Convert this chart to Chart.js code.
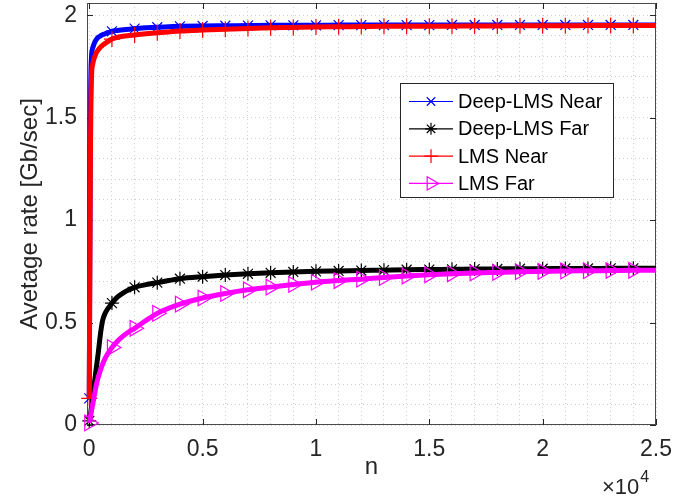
<!DOCTYPE html>
<html><head><meta charset="utf-8">
<script src="https://cdn.jsdelivr.net/npm/chart.js@4.4.0/dist/chart.umd.min.js"></script>
<style>html,body{margin:0;padding:0;background:#fff}#wrap{width:693px;height:497px;position:relative}</style>
</head><body><div id="wrap"><canvas id="c" width="693" height="497"></canvas></div>
<script>
// ---- data ----
const nValues = [0, 50, 100, 150, 200, 250, 300, 400, 500, 600, 700, 800, 900, 1000, 1250, 1500, 1750, 2000, 2500, 3000, 3500, 4000, 5000, 6000, 7000, 8000, 9000, 10000, 11000, 12000, 13000, 14000, 15000, 16000, 17000, 18000, 19000, 20000, 21000, 22000, 23000, 24000, 25000];
const deepLmsNear = [0.13, 1.50, 1.80, 1.84, 1.857, 1.87, 1.88, 1.893, 1.90, 1.906, 1.91, 1.915, 1.918, 1.922, 1.926, 1.929, 1.932, 1.935, 1.939, 1.942, 1.944, 1.946, 1.948, 1.949, 1.950, 1.951, 1.951, 1.951, 1.952, 1.952, 1.952, 1.952, 1.952, 1.953, 1.953, 1.953, 1.953, 1.953, 1.953, 1.953, 1.953, 1.953, 1.953];
const deepLmsFar = [0.02, 0.05, 0.09, 0.135, 0.18, 0.225, 0.27, 0.355, 0.45, 0.515, 0.545, 0.565, 0.58, 0.595, 0.625, 0.645, 0.66, 0.672, 0.685, 0.695, 0.705, 0.714, 0.724, 0.732, 0.738, 0.743, 0.747, 0.750, 0.752, 0.754, 0.756, 0.758, 0.759, 0.760, 0.761, 0.762, 0.763, 0.763, 0.764, 0.764, 0.765, 0.765, 0.765];
const lmsNear = [0.13, 1.30, 1.70, 1.76, 1.785, 1.80, 1.815, 1.832, 1.845, 1.855, 1.863, 1.870, 1.878, 1.884, 1.893, 1.898, 1.901, 1.904, 1.910, 1.915, 1.919, 1.923, 1.928, 1.932, 1.936, 1.939, 1.941, 1.943, 1.944, 1.945, 1.946, 1.946, 1.947, 1.947, 1.948, 1.948, 1.949, 1.949, 1.949, 1.950, 1.950, 1.950, 1.950];
const lmsFar = [0.01, 0.04, 0.07, 0.10, 0.13, 0.16, 0.19, 0.235, 0.27, 0.30, 0.325, 0.345, 0.362, 0.378, 0.41, 0.435, 0.455, 0.472, 0.51, 0.545, 0.57, 0.59, 0.62, 0.642, 0.66, 0.673, 0.686, 0.697, 0.705, 0.712, 0.72, 0.727, 0.733, 0.738, 0.742, 0.745, 0.748, 0.75, 0.752, 0.753, 0.754, 0.755, 0.755];
const seriesLabels = ['Deep-LMS Near', 'Deep-LMS Far', 'LMS Near', 'LMS Far'];
const xMajorTicks = [0, 5000, 10000, 15000, 20000, 25000];
const xTickLabels = ['0', '0.5', '1', '1.5', '2', '2.5'];
const yMajorTicks = [0, 0.5, 1, 1.5, 2];
const yTickLabels = ['0', '0.5', '1', '1.5', '2'];
const xAxisTitle = 'n';
const yAxisTitle = 'Avetage rate [Gb/sec]';
const xExponentBase = '\u00d710';
const xExponent = '4';
const markerEvery = 1000;

// ---- styling ----
const FONT = "'Liberation Sans', Arial, Helvetica, sans-serif";
Chart.defaults.font.family = FONT;
const TEXT = '#262626';
const styles = [
  {color: '#0000ff', marker: 'crossRot', r: 7, rot: 0, order: 3},
  {color: '#000000', marker: 'star', r: 7, rot: 0, order: 2},
  {color: '#ff0000', marker: 'cross', r: 8, rot: 0, order: 1},
  {color: '#ff00ff', marker: 'triangle', r: 9, rot: 90, order: 0}
];
const seriesValues = [deepLmsNear, deepLmsFar, lmsNear, lmsFar];

const datasets = seriesValues.map((vals, k) => ({
  label: seriesLabels[k],
  data: nValues.map((n, i) => ({x: n, y: vals[i]})),
  borderColor: styles[k].color,
  backgroundColor: 'rgba(0,0,0,0)',
  borderWidth: 5,
  cubicInterpolationMode: 'monotone',
  pointStyle: styles[k].marker,
  pointRotation: styles[k].rot,
  pointRadius: c => {
    const n = nValues[c.dataIndex];
    return (n % markerEvery === 0 && n < 25000) ? styles[k].r : 0;
  },
  pointBorderColor: styles[k].color,
  pointBackgroundColor: 'rgba(0,0,0,0)',
  pointBorderWidth: 1.2,
  order: styles[k].order,
  clip: false
}));

function drawMarker(ctx, style, x, y, r, rotDeg) {
  ctx.beginPath();
  if (style === 'cross' || style === 'star') {
    ctx.moveTo(x - r, y); ctx.lineTo(x + r, y);
    ctx.moveTo(x, y - r); ctx.lineTo(x, y + r);
  }
  if (style === 'crossRot' || style === 'star') {
    const d = r * Math.SQRT1_2;
    ctx.moveTo(x - d, y - d); ctx.lineTo(x + d, y + d);
    ctx.moveTo(x - d, y + d); ctx.lineTo(x + d, y - d);
  }
  if (style === 'triangle') {
    let a = rotDeg * Math.PI / 180;
    ctx.moveTo(x + Math.sin(a) * r, y - Math.cos(a) * r);
    a += 2 * Math.PI / 3;
    ctx.lineTo(x + Math.sin(a) * r, y - Math.cos(a) * r);
    a += 2 * Math.PI / 3;
    ctx.lineTo(x + Math.sin(a) * r, y - Math.cos(a) * r);
    ctx.closePath();
  }
  ctx.stroke();
}

const matlabAxes = {
  id: 'matlabAxes',
  beforeDatasetsDraw(chart) {
    const {ctx, chartArea: a, scales: {x, y}} = chart;
    ctx.save();
    ctx.strokeStyle = '#4a4a4a';
    ctx.lineWidth = 1;
    ctx.strokeRect(Math.round(a.left) + 0.5, Math.round(a.top) + 0.5,
      Math.round(a.right - a.left) - 1, Math.round(a.bottom - a.top) - 1);
    ctx.strokeStyle = '#262626';
    const tl = 6;
    ctx.beginPath();
    xMajorTicks.forEach(v => {
      const px = Math.round(x.getPixelForValue(v)) + 0.5;
      ctx.moveTo(px, a.bottom); ctx.lineTo(px, a.bottom - tl);
      ctx.moveTo(px, a.top); ctx.lineTo(px, a.top + tl);
    });
    yMajorTicks.forEach(v => {
      const py = Math.round(y.getPixelForValue(v)) + 0.5;
      ctx.moveTo(a.left, py); ctx.lineTo(a.left + tl, py);
      ctx.moveTo(a.right, py); ctx.lineTo(a.right - tl, py);
    });
    ctx.stroke();
    ctx.restore();
  },
  afterDraw(chart) {
    const {ctx} = chart;
    ctx.save();
    // exponent label
    ctx.fillStyle = TEXT;
    ctx.textBaseline = 'alphabetic';
    ctx.textAlign = 'left';
    ctx.font = '22px ' + FONT;
    ctx.fillText(xExponentBase, 602, 494);
    const w = ctx.measureText(xExponentBase).width;
    ctx.font = '16px ' + FONT;
    ctx.fillText(xExponent, 602 + w + 1, 482);
    // legend
    const bx = 400.5, by = 83.5, bw = 213, bh = 114, rowH = 27.3;
    ctx.fillStyle = '#ffffff';
    ctx.fillRect(bx, by, bw, bh);
    ctx.strokeStyle = '#262626';
    ctx.lineWidth = 1;
    ctx.strokeRect(bx, by, bw, bh);
    ctx.font = '20px ' + FONT;
    ctx.textBaseline = 'middle';
    chart.data.datasets.forEach((ds, k) => {
      const cy = by + 18 + k * rowH;
      ctx.strokeStyle = styles[k].color;
      ctx.lineWidth = 1.2;
      ctx.beginPath();
      ctx.moveTo(409, cy); ctx.lineTo(453, cy);
      ctx.stroke();
      drawMarker(ctx, styles[k].marker, 431, cy, styles[k].r * 0.85, styles[k].rot);
      ctx.fillStyle = '#000000';
      ctx.fillText(ds.label, 458, cy + 1);
    });
    ctx.restore();
  }
};

const minorX = [];
for (let v = 0; v <= 25000; v += 1000) minorX.push(v);
const minorY = [];
for (let k = 0; k <= 20; k++) minorY.push(Math.round(k * 10) / 100);

new Chart(document.getElementById('c'), {
  type: 'line',
  data: {datasets},
  options: {
    responsive: false,
    animation: false,
    events: [],
    layout: {autoPadding: false, padding: {left: 0, top: 3, right: 37, bottom: 0}},
    plugins: {legend: {display: false}, tooltip: {enabled: false}},
    scales: {
      x: {
        type: 'linear', min: -100, max: 25000,
        afterBuildTicks: s => { s.ticks = minorX.map(v => ({value: v})); },
        afterFit: s => { s.height = 72; s.paddingLeft = 0; s.paddingRight = 0; },
        ticks: {
          autoSkip: false, maxRotation: 0, minRotation: 0, padding: 11,
          color: TEXT, font: {size: 23},
          callback: v => { const i = xMajorTicks.indexOf(v); return i >= 0 ? xTickLabels[i] : ''; }
        },
        grid: {color: '#d0d0d0', lineWidth: 1, drawTicks: false},
        border: {display: false, dash: [1, 3]},
        title: {display: true, text: xAxisTitle, color: TEXT, font: {size: 24}, padding: {top: 0, bottom: 15}}
      },
      y: {
        type: 'linear', min: 0, max: 2.06,
        afterBuildTicks: s => { s.ticks = minorY.map(v => ({value: v})); },
        afterFit: s => { s.width = 87; s.paddingTop = 0; s.paddingBottom = 0; },
        ticks: {
          autoSkip: false, padding: 10, color: TEXT, font: {size: 23},
          callback: v => { const i = yMajorTicks.findIndex(t => Math.abs(t - v) < 1e-9); return i >= 0 ? yTickLabels[i] : ''; }
        },
        grid: {color: '#d0d0d0', lineWidth: 1, drawTicks: false},
        border: {display: false, dash: [1, 3]},
        title: {display: true, text: yAxisTitle, color: TEXT, font: {size: 24}, padding: {top: 16, bottom: 0}}
      }
    }
  },
  plugins: [matlabAxes]
});
</script>
</body></html>
